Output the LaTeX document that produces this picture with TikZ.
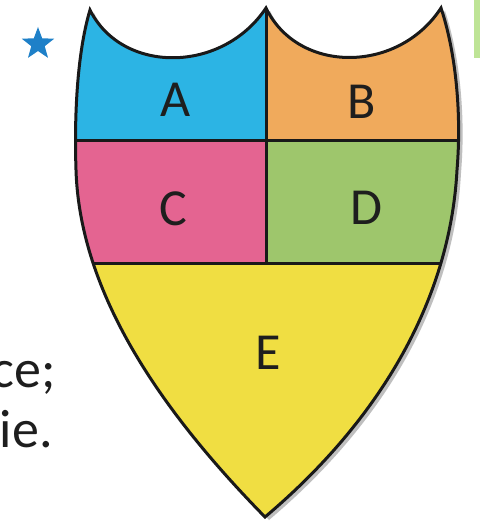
\documentclass[tikz,border=0pt]{standalone}
\usepackage{fontspec}
\setmainfont{Carlito}
\usetikzlibrary{shapes.geometric}
\definecolor{colA}{RGB}{44,180,228}
\definecolor{colB}{RGB}{240,170,92}
\definecolor{colC}{RGB}{228,100,145}
\definecolor{colD}{RGB}{158,198,108}
\definecolor{colE}{RGB}{240,222,66}
\definecolor{starblue}{RGB}{30,128,200}
\definecolor{txt}{RGB}{30,30,30}
\definecolor{strip}{RGB}{190,228,150}
\tikzset{
  label/.style={font=\fontsize{52}{52}\selectfont, text=txt, inner sep=0pt},
  body/.style={font=\fontsize{54}{54}\selectfont, text=txt, inner sep=0pt},
  edge/.style={line width=3pt, draw=black!90},
}
\def\shieldpath{(90,10) .. controls (122,74) and (222,74) .. (266,8)
  .. controls (298,74) and (398,74) .. (441,8)
  .. controls (455,50) and (462,110) .. (457,170)
  .. controls (450,300) and (380,420) .. (265,517)
  .. controls (170,420) and (80,300) .. (76,170)
  .. controls (74,110) and (78,50) .. (90,10) -- cycle}
\begin{document}
\begin{tikzpicture}[x=1pt,y=-1pt]
\useasboundingbox (0,0) rectangle (480,529);
\fill[white] (0,0) rectangle (480,529);
\fill[strip] (474,0) rectangle (480,58);
% shadow
\fill[black!25, xshift=4pt, yshift=-3pt] \shieldpath;
\begin{scope}
  \clip \shieldpath;
  \fill[colA] (0,0) rectangle (266,141);
  \fill[colB] (266,0) rectangle (480,141);
  \fill[colC] (0,141) rectangle (266,263);
  \fill[colD] (266,141) rectangle (480,263);
  \fill[colE] (0,263) rectangle (480,529);
  \coordinate (h1l) at (60,141);
  \coordinate (h1r) at (470,141);
  \coordinate (h2l) at (60,263);
  \coordinate (h2r) at (470,263);
  \coordinate (vt) at (266,0);
  \coordinate (vb) at (266,263);
  \draw[edge] (h1l) -- (h1r);
  \draw[edge] (h2l) -- (h2r);
  \draw[edge] (vt) -- (vb);
\end{scope}
\draw[edge, line join=miter, miter limit=20] \shieldpath;
\node[label] (A) at (176,100) {A};
\node[label] (B) at (362,102) {B};
\node[label] (C) at (173,209) {C};
\node[label] (D) at (366,208) {D};
\node[label] (E) at (268,353) {E};
\node[star, star points=5, star point ratio=2.4, fill=starblue, minimum size=34pt, inner sep=0pt] (star) at (38,44) {};
\node[body, anchor=base east] (t1) at (56,387) {ce;};
\node[body, anchor=base east] (t2) at (53,447) {ie.};
\end{tikzpicture}
\end{document}
